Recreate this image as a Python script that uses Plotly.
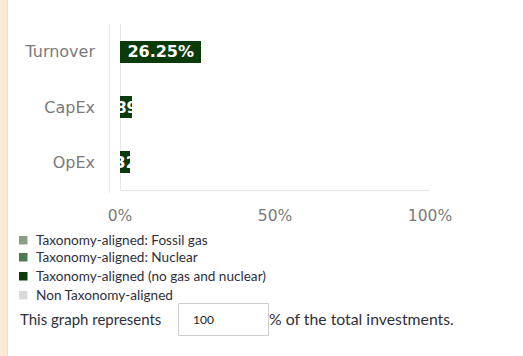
import plotly.graph_objects as go

# Categories and series (percent of total investments)
categories = ["Turnover", "CapEx", "OpEx"]
fossil_gas = [0.0, 0.0, 0.0]
nuclear = [0.0, 0.0, 0.0]
aligned_other = [26.25, 3.89, 3.32]

series_names = [
    "Taxonomy-aligned: Fossil gas",
    "Taxonomy-aligned: Nuclear",
    "Taxonomy-aligned (no gas and nuclear)",
    "Non Taxonomy-aligned",
]
series_colors = ["#86a086", "#4f7a4f", "#0b3b0a", "#d9d9d9"]

x_ticks = [0, 50, 100]
x_tick_labels = ["0%", "50%", "100%"]
represented_share = "100"

W, H = 523, 356


def px(xp):
    return xp / W


def py(yp):
    return 1 - yp / H


fig = go.Figure()

for name, vals, color in zip(series_names[:3], [fossil_gas, nuclear, aligned_other], series_colors[:3]):
    fig.add_trace(go.Bar(
        y=categories,
        x=vals,
        orientation="h",
        name=name,
        marker=dict(color=color, line=dict(width=0)),
        text=[f"{v:.2f}%" if v > 0 else "" for v in vals],
        textposition="inside",
        insidetextanchor="middle",
        textangle=0,
        constraintext="none",
        textfont=dict(family="DejaVu Sans", size=16, color="white", weight="bold"),
        showlegend=False,
        hoverinfo="skip",
    ))

shapes = [
    # left accent strip of the page
    dict(type="rect", xref="paper", yref="paper", x0=0, x1=px(7), y0=0, y1=1,
         fillcolor="#fbe8d6", line=dict(width=0), layer="below"),
    dict(type="line", xref="paper", yref="paper", x0=px(7.5), x1=px(7.5), y0=0, y1=1,
         line=dict(color="#efdccb", width=1), layer="below"),
    # left border of the chart area
    dict(type="line", xref="paper", yref="paper", x0=px(109.5), x1=px(109.5), y0=py(193), y1=py(24),
         line=dict(color="#e6e6e6", width=1), layer="below"),
    # value input box
    dict(type="rect", xref="paper", yref="paper", x0=px(178.5), x1=px(268.5), y0=py(335.5), y1=py(303.5),
         line=dict(color="#cfcfcf", width=1), fillcolor="white", layer="below"),
]

annotations = []
legend_rows = [240, 257, 276, 295]
for name, color, yc in zip(series_names, series_colors, legend_rows):
    shapes.append(dict(type="rect", xref="paper", yref="paper",
                       x0=px(19), x1=px(27.5), y0=py(yc + 4.5), y1=py(yc - 4),
                       fillcolor=color, line=dict(width=0)))
    annotations.append(dict(text=name, xref="paper", yref="paper", x=px(34), y=py(yc),
                            xanchor="left", yanchor="middle", showarrow=False,
                            font=dict(family="Lato", size=13.6, color="#2f2f3a")))

annotations += [
    dict(text="This graph represents", xref="paper", yref="paper", x=px(18), y=py(318.5),
         xanchor="left", yanchor="middle", showarrow=False,
         font=dict(family="Lato", size=15, color="#2f2f3a")),
    dict(text=represented_share, xref="paper", yref="paper", x=px(191), y=py(319),
         xanchor="left", yanchor="middle", showarrow=False,
         font=dict(family="Lato", size=12, color="#222222")),
    dict(text="% of the total investments.", xref="paper", yref="paper", x=px(267), y=py(318.5),
         xanchor="left", yanchor="middle", showarrow=False,
         font=dict(family="Lato", size=15.8, color="#2f2f3a")),
]

fig.update_layout(
    width=W, height=H,
    margin=dict(l=0, r=0, t=0, b=0),
    paper_bgcolor="white",
    plot_bgcolor="white",
    barmode="stack",
    bargap=0.6,
    uniformtext=dict(minsize=16, mode="show"),
    shapes=shapes,
    annotations=annotations,
    xaxis=dict(
        domain=[px(120), px(430)],
        range=[0, 100],
        automargin=False,
        tickvals=x_ticks,
        ticktext=x_tick_labels,
        showgrid=False,
        zeroline=True,
        zerolinecolor="#e6e6e6",
        zerolinewidth=1,
        showline=True,
        linecolor="#e6e6e6",
        linewidth=1,
        ticks="",
        ticklabelstandoff=11,
        tickfont=dict(family="DejaVu Sans", size=15.5, color="#7a7a7a"),
        fixedrange=True,
    ),
    yaxis=dict(
        domain=[py(190), py(24)],
        autorange="reversed",
        automargin=False,
        showgrid=False,
        zeroline=False,
        showline=False,
        ticks="",
        ticklabelstandoff=24,
        tickfont=dict(family="DejaVu Sans", size=16, color="#7a7a7a"),
        fixedrange=True,
    ),
)

fig.write_html("out.html", config={"displayModeBar": False})
